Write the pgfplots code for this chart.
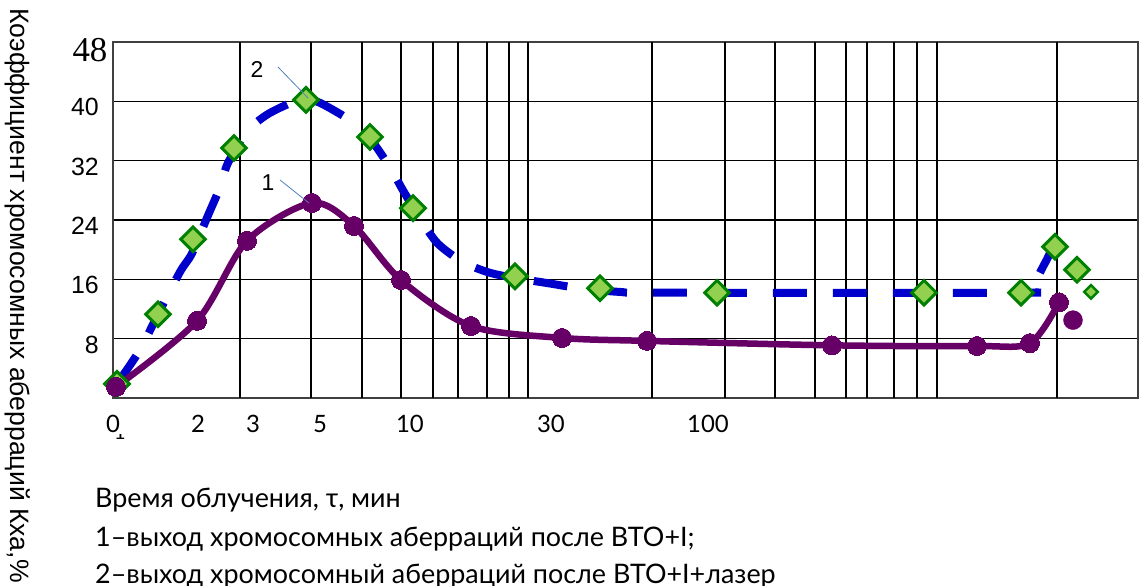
\documentclass[border=0pt]{standalone}
\usepackage{pgfplots}
\pgfplotsset{compat=1.18}
\usepackage{fontspec}
\setmainfont{Lato}
\newfontfamily\serifnum{Liberation Serif}
\newfontfamily\arial{Liberation Sans}
\definecolor{purp}{HTML}{660066}
\definecolor{dblue}{HTML}{0000CC}
\definecolor{lgreen}{HTML}{92D050}
\definecolor{dgreen}{HTML}{008000}
\definecolor{leader}{HTML}{4F81BD}
\begin{document}
\begin{tikzpicture}
\useasboundingbox (-113bp,-188bp) rectangle (1026bp,398bp);
\begin{axis}[
 scale only axis, width=1025bp, height=356bp,
 xmin=0, xmax=1025, ymin=0, ymax=48,
 clip=false,
 axis line style={draw=black!75, line width=1.8bp},
 xtick={0,85,140,207,297,438,595},
 xticklabels={0,2,3,5,10,30,100},
 xtick style={draw=none},
 xticklabel style={anchor=north, inner sep=0pt, yshift=-17bp, font=\fontsize{24}{24}\selectfont},
 extra x ticks={127,198,249,288,320,345,374,396,415,539,612,662,702,733,754,781,804,824,944},
 extra x tick labels={},
 extra x tick style={grid=major, tick style={draw=none}},
 ytick={8,16,24,32,40},
 ymajorgrids,
 ytick style={draw=none},
 yticklabel style={anchor=east, inner sep=0pt, xshift=-14bp, yshift=-6bp, font=\fontsize{25}{25}\arial},
 grid style={black, line width=1.3bp},
 /pgf/number format/assume math mode=true,
]
\addplot[dblue, line width=8bp, dash pattern=on 34bp off 26bp, smooth, tension=0.5] coordinates {
(4,1.9)(27,6.5)(45,11.3)(67,17.0)(79,19.5)(94,24.3)(107,28.4)(115,31.7)(134,35.9)(154,38.2)(180,39.9)(193,40.2)(207,39.8)(240,37.2)(257,35.0)(277,31.1)(290,28.0)(309,23.8)(325,20.8)(349,18.4)(374,17.0)(397,16.3)(434,15.5)(467,14.8)(507,14.3)(550,14.2)(902,14.2)(917,14.6)(932,18.2)(942,20.4)(957,19.4)};
\addplot[only marks, mark=square*, mark size=8.7bp, mark options={rotate=45, fill=lgreen, draw=dgreen, line width=3bp}] coordinates {
(4,1.9)(45,11.3)(80,21.4)(121,33.7)(193,40.2)(257,35.2)(300,25.6)(402,16.4)(487,14.8)(604,14.2)(811,14.2)(908,14.2)(942,20.4)(964,17.3)};
\addplot[only marks, mark=square*, mark size=4.8bp, mark options={rotate=45, fill=lgreen, draw=dgreen, line width=2.5bp}] coordinates {(978,14.3)};
\addplot[purp, line width=6.5bp, smooth, tension=0.5, mark=*, mark size=9.5bp, mark options={solid, fill=purp, draw=purp, line width=0pt}] coordinates {
(3,1.5)(84,10.4)(134,21.2)(199,26.3)(241,23.2)(288,15.9)(358,9.7)(449,8.1)(534,7.7)(719,7.1)(864,7.0)(917,7.4)(946,12.9)};
\addplot[only marks, mark=*, mark size=9.5bp, mark options={fill=purp, draw=purp}] coordinates {(960,10.5)};
\end{axis}
\node[font=\fontsize{35}{35}\serifnum] at (-23bp,348bp) {48};
\draw[leader, line width=0.8bp] (165bp,331bp) -- (195bp,300bp);
\draw[leader, line width=0.8bp] (167bp,218bp) -- (196bp,195bp);
\node[font=\fontsize{23}{23}\arial] at (144bp,328bp) {2};
\node[font=\fontsize{23}{23}\arial] at (155bp,215bp) {1};
\begin{scope}
\clip (0bp,-42bp) rectangle (14bp,-36bp);
\node[anchor=base, inner sep=0pt, font=\fontsize{20}{20}\selectfont] at (7bp,-41bp) {1};
\end{scope}
\node[rotate=-90, anchor=west, inner sep=0pt, font=\fontsize{26.7}{26.7}\arial] at (-95bp,390bp) {Коэффициент хромосомных аберраций Кха,\%};
\node[anchor=base west, inner sep=0pt, font=\fontsize{27}{27}\selectfont] at (-18bp,-109bp) {Время облучения, τ, мин};
\node[anchor=base west, inner sep=0pt, font=\fontsize{27}{27}\selectfont] at (-18bp,-148bp) {1–выход хромосомных аберраций после ВТО+I;};
\node[anchor=base west, inner sep=0pt, font=\fontsize{27}{27}\selectfont] at (-18bp,-185bp) {2–выход хромосомный аберраций после ВТО+I+лазер};
\end{tikzpicture}
\end{document}
